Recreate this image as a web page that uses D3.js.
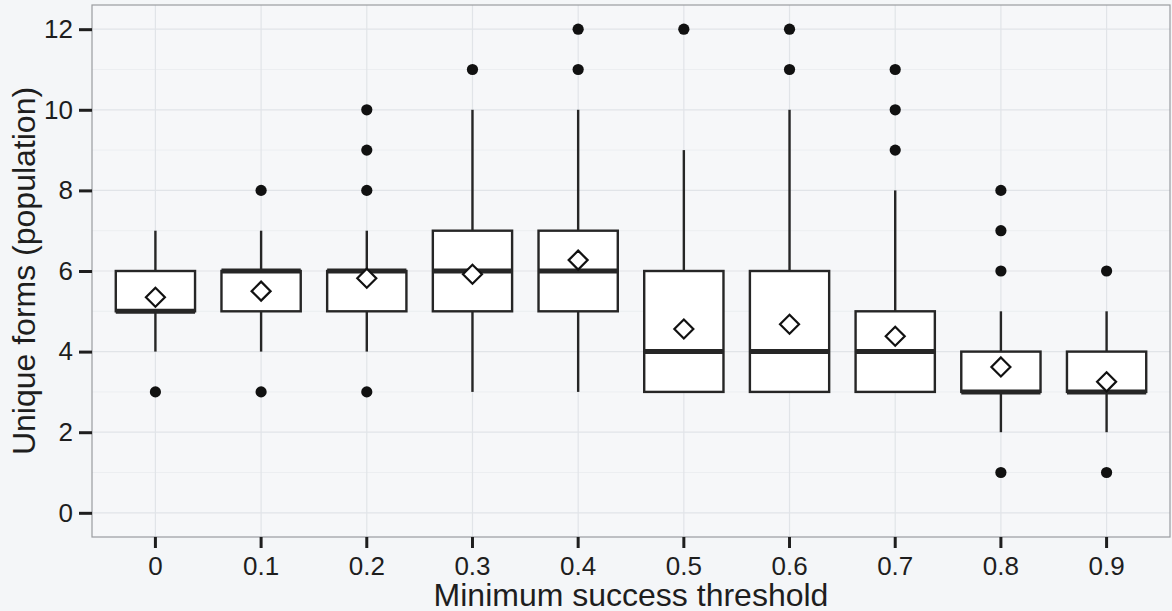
<!DOCTYPE html>
<html>
<head>
<meta charset="utf-8">
<script src="https://cdn.jsdelivr.net/npm/d3@7/dist/d3.min.js"></script>
<style>
  html, body { margin: 0; padding: 0; background: #f4f6f8; }
  svg { display: block; }
  text { font-family: "Liberation Sans", Arial, Helvetica, sans-serif; fill: #1e1e1e; }
</style>
</head>
<body>
<svg id="chart" width="1172" height="611"></svg>
<script>
// ---- data ----
const categories = ["0", "0.1", "0.2", "0.3", "0.4", "0.5", "0.6", "0.7", "0.8", "0.9"];
const whiskerLow  = [4, 4, 4, 3, 3, 3, 3, 3, 2, 2];
const q1          = [5, 5, 5, 5, 5, 3, 3, 3, 3, 3];
const medians     = [5, 6, 6, 6, 6, 4, 4, 4, 3, 3];
const q3          = [6, 6, 6, 7, 7, 6, 6, 5, 4, 4];
const whiskerHigh = [7, 7, 7, 10, 10, 9, 10, 8, 5, 5];
const means       = [5.35, 5.5, 5.82, 5.92, 6.27, 4.56, 4.68, 4.38, 3.62, 3.25];
const outliers    = [[3], [3, 8], [3, 8, 9, 10], [11], [11, 12], [12], [11, 12], [9, 10, 11], [1, 6, 7, 8], [1, 6]];
const yTicks      = [0, 2, 4, 6, 8, 10, 12];
const xTitle = "Minimum success threshold";
const yTitle = "Unique forms (population)";

// ---- layout ----
const svg = d3.select("#chart");
const panel = { left: 92, right: 1170, top: 5, bottom: 537 };

const x = d3.scaleBand().domain(categories)
  .range([panel.left, panel.right]).paddingOuter(0.1).paddingInner(0);
const y = d3.scaleLinear().domain([-0.6, 12.6]).range([panel.bottom, panel.top]);
const bw = x.bandwidth() * 0.75;
const cx = c => x(c) + x.bandwidth() / 2;

// panel background
svg.append("rect").attr("x", panel.left).attr("y", panel.top)
  .attr("width", panel.right - panel.left).attr("height", panel.bottom - panel.top)
  .attr("fill", "#f6f7f9");

// grid: minor then major
const gridG = svg.append("g");
d3.range(1, 12, 2).forEach(v => {
  gridG.append("line").attr("x1", panel.left).attr("x2", panel.right)
    .attr("y1", y(v)).attr("y2", y(v)).attr("stroke", "#eceef1").attr("stroke-width", 1);
});
yTicks.forEach(v => {
  gridG.append("line").attr("x1", panel.left).attr("x2", panel.right)
    .attr("y1", y(v)).attr("y2", y(v)).attr("stroke", "#e1e4e8").attr("stroke-width", 1.2);
});
categories.forEach(c => {
  gridG.append("line").attr("y1", panel.top).attr("y2", panel.bottom)
    .attr("x1", cx(c)).attr("x2", cx(c)).attr("stroke", "#e1e4e8").attr("stroke-width", 1.2);
});

// boxes
const data = categories.map((c, i) => ({
  c, lo: whiskerLow[i], q1: q1[i], med: medians[i], q3: q3[i], hi: whiskerHigh[i],
  mean: means[i], out: outliers[i]
}));

const stroke = "#262626";
const boxG = svg.append("g");
data.forEach(d => {
  const xc = cx(d.c);
  boxG.append("line").attr("x1", xc).attr("x2", xc).attr("y1", y(d.q3)).attr("y2", y(d.hi))
    .attr("stroke", stroke).attr("stroke-width", 2.4);
  boxG.append("line").attr("x1", xc).attr("x2", xc).attr("y1", y(d.q1)).attr("y2", y(d.lo))
    .attr("stroke", stroke).attr("stroke-width", 2.4);
  boxG.append("rect").attr("x", xc - bw / 2).attr("y", y(d.q3))
    .attr("width", bw).attr("height", y(d.q1) - y(d.q3))
    .attr("fill", "#ffffff").attr("stroke", stroke).attr("stroke-width", 2.4);
  boxG.append("line").attr("x1", xc - bw / 2).attr("x2", xc + bw / 2)
    .attr("y1", y(d.med)).attr("y2", y(d.med))
    .attr("stroke", stroke).attr("stroke-width", 5);
  d.out.forEach(o => {
    boxG.append("circle").attr("cx", xc).attr("cy", y(o)).attr("r", 5.6).attr("fill", "#111");
  });
  const s = 9.5;
  const my = y(d.mean);
  boxG.append("path")
    .attr("d", `M${xc},${my - s}L${xc + s},${my}L${xc},${my + s}L${xc - s},${my}Z`)
    .attr("fill", "#ffffff").attr("stroke", "#111").attr("stroke-width", 2.2);
});

// panel border
svg.append("rect").attr("x", panel.left).attr("y", panel.top)
  .attr("width", panel.right - panel.left).attr("height", panel.bottom - panel.top)
  .attr("fill", "none").attr("stroke", "#9a9ca0").attr("stroke-width", 1.2);

// y axis
const yAxis = d3.axisLeft(y).tickValues(yTicks).tickSize(13).tickPadding(6).tickFormat(d3.format("d"));
const ya = svg.append("g").attr("transform", `translate(${panel.left},0)`).call(yAxis);
ya.select(".domain").remove();
ya.selectAll(".tick line").attr("stroke", "#1e1e1e").attr("stroke-width", 3);
ya.selectAll(".tick text").attr("font-size", 26).attr("fill", "#1e1e1e")
  .style("font-family", '"Liberation Sans", Arial, sans-serif');

// x axis
const xAxis = d3.axisBottom(x).tickSize(11).tickPadding(9);
const xa = svg.append("g").attr("transform", `translate(0,${panel.bottom})`).call(xAxis);
xa.select(".domain").remove();
xa.selectAll(".tick line").attr("stroke", "#1e1e1e").attr("stroke-width", 3);
xa.selectAll(".tick text").attr("font-size", 26).attr("fill", "#1e1e1e")
  .style("font-family", '"Liberation Sans", Arial, sans-serif');

// titles
svg.append("text").attr("x", (panel.left + panel.right) / 2).attr("y", 606)
  .attr("text-anchor", "middle").attr("font-size", 32).text(xTitle);
svg.append("text").attr("transform", `translate(35,${(panel.top + panel.bottom) / 2}) rotate(-90)`)
  .attr("text-anchor", "middle").attr("font-size", 32).text(yTitle);
</script>
</body>
</html>
